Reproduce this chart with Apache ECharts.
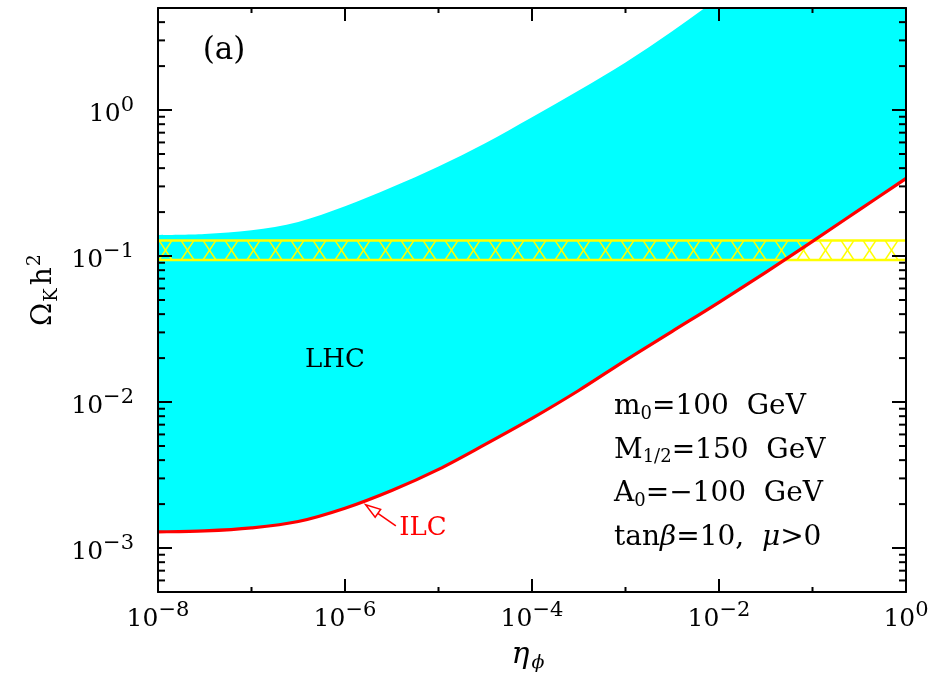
<!DOCTYPE html>
<html><head><meta charset="utf-8">
<script src="https://cdn.jsdelivr.net/npm/echarts@6/dist/echarts.min.js"></script>
<style>html,body{margin:0;padding:0;background:#fff}#c{width:942px;height:679px}</style>
</head><body><div id="c"></div>
<script>
// ---- data ----
const etaPhi   = [1e-8, 3.16e-8, 1e-7, 3.16e-7, 1e-6, 3.16e-6, 1e-5, 3.16e-5, 1e-4, 3.16e-4, 1e-3, 3.16e-3, 1e-2, 3.16e-2, 1e-1, 3.16e-1, 1];
const ilcLower = [1.29e-3, 1.31e-3, 1.374e-3, 1.52e-3, 1.875e-3, 2.48e-3, 3.46e-3, 5.13e-3, 7.73e-3, 0.0120, 0.0193, 0.0305, 0.0482, 0.0774, 0.126, 0.207, 0.340];
const lhcUpper = [0.139, 0.1415, 0.150, 0.171, 0.219, 0.296, 0.411, 0.592, 0.891, 1.36, 2.12, 3.46, 5.91, 10.4, 19.0, 35.2, 66];
const wmapX    = [1e-8, 1];
const wmapY    = [0.094, 0.128];
const xRange   = [1e-8, 1];
const yRange   = [5e-4, 5];
const xMinorTicks = [1e-7, 1e-5, 1e-3, 1e-1];
const yMinorTicks = [6e-4, 7e-4, 8e-4, 9e-4,
  2e-3, 3e-3, 4e-3, 5e-3, 6e-3, 7e-3, 8e-3, 9e-3,
  2e-2, 3e-2, 4e-2, 5e-2, 6e-2, 7e-2, 8e-2, 9e-2,
  0.2, 0.3, 0.4, 0.5, 0.6, 0.7, 0.8, 0.9,
  2, 3, 4];
const ilcArrowFrom = [3.5e-6, 1.42e-3];
const ilcArrowTo   = [1.66e-6, 1.98e-3];
const paramLines = [
  'm{sub|0}=100  GeV',
  'M{sub|1/2}=150  GeV',
  'A{sub|0}=\u2212100  GeV',
  'tan{it|\u03b2}=10,  {it|\u03bc}>0'
];

// ---- helpers ----
const SERIF = 'DejaVu Serif';
function decadeLabel(v) {
  const l = Math.log10(v), e = Math.round(l);
  if (Math.abs(l - e) > 1e-6) return '';
  return '{b|10}{s|' + (e < 0 ? '\u2212' : '') + Math.abs(e) + '}';
}
// smooth path (Catmull-Rom as cubic Bezier) through pixel points
function curvePath(pts, start) {
  let d = (start ? 'M' : 'L') + pts[0][0].toFixed(2) + ',' + pts[0][1].toFixed(2);
  const n = pts.length;
  for (let i = 0; i < n - 1; i++) {
    const p0 = pts[Math.max(i - 1, 0)], p1 = pts[i], p2 = pts[i + 1], p3 = pts[Math.min(i + 2, n - 1)];
    const c1 = [p1[0] + (p2[0] - p0[0]) / 6, p1[1] + (p2[1] - p0[1]) / 6];
    const c2 = [p2[0] - (p3[0] - p1[0]) / 6, p2[1] - (p3[1] - p1[1]) / 6];
    d += ' C' + c1[0].toFixed(2) + ',' + c1[1].toFixed(2) + ' ' + c2[0].toFixed(2) + ',' + c2[1].toFixed(2) + ' ' + p2[0].toFixed(2) + ',' + p2[1].toFixed(2);
  }
  return d;
}
const labelRich = {
  b: {fontFamily: SERIF, fontSize: 25, color: '#000', padding: [9, 0, 0, 0]},
  s: {fontFamily: SERIF, fontSize: 21, color: '#000', padding: [0, 0, 9, 0]}
};
const axisCommon = {
  z: 10,
  axisLine: {show: true, lineStyle: {color: '#000', width: 2}},
  splitLine: {show: false},
  minorTick: {show: false}
};
function xAxisDef(pos, labels) {
  return Object.assign({}, axisCommon, {
    type: 'log', logBase: 10, position: pos, min: xRange[0], max: xRange[1], interval: 2,
    axisTick: {show: true, inside: true, length: 13, lineStyle: {color: '#000', width: 2}},
    axisLabel: {show: labels, margin: 6, formatter: decadeLabel, rich: labelRich}
  });
}
function yAxisDef(pos, labels) {
  return Object.assign({}, axisCommon, {
    type: 'log', logBase: 10, position: pos, min: yRange[0], max: yRange[1],
    axisTick: {show: true, inside: true, length: 14, lineStyle: {color: '#000', width: 2}},
    axisLabel: {show: labels, margin: 24, formatter: decadeLabel, rich: labelRich}
  });
}

const chart = echarts.init(document.getElementById('c'), null, {renderer: 'canvas'});

const curveData = etaPhi.map((x, i) => [x, ilcLower[i], lhcUpper[i]]);

const option = {
  animation: false,
  backgroundColor: '#fff',
  grid: {left: 158, right: 36, top: 8, bottom: 87, containLabel: false},
  xAxis: [xAxisDef('bottom', true), xAxisDef('top', false)],
  yAxis: [yAxisDef('left', true), yAxisDef('right', false)],
  series: [
    { // LHC region between ILC curve and upper curve
      name: 'LHC', type: 'custom', coordinateSystem: 'cartesian2d', z: 1, silent: true, clip: true,
      data: curveData,
      renderItem: function (params, api) {
        if (params.dataIndex !== 0) return null;
        const up = etaPhi.map((x, i) => api.coord([x, lhcUpper[i]]));
        const lo = etaPhi.map((x, i) => api.coord([x, ilcLower[i]])).reverse();
        const d = curvePath(up, true) + ' ' + curvePath(lo, false) + ' Z';
        return {type: 'path', shape: {pathData: d}, style: {fill: '#00ffff', stroke: null}};
      }
    },
    { // WMAP band
      name: 'WMAP', type: 'custom', coordinateSystem: 'cartesian2d', z: 3, silent: true,
      data: [[wmapX[0], wmapY[0], wmapX[1], wmapY[1]]],
      renderItem: function (params, api) {
        const pTL = api.coord([api.value(0), api.value(3)]);
        const pBR = api.coord([api.value(2), api.value(1)]);
        const left = pTL[0], right = pBR[0], top = pTL[1], bot = pBR[1];
        const P = 22, w = 13;
        const st = {stroke: '#ffff00', lineWidth: 1.5};
        const ch = [];
        for (let x = left + 1; x + w <= right; x += P) {
          ch.push({type: 'line', shape: {x1: x, y1: top, x2: x + w, y2: bot}, style: st});
          ch.push({type: 'line', shape: {x1: x + w, y1: top, x2: x, y2: bot}, style: st});
        }
        ch.push({type: 'line', shape: {x1: left, y1: top, x2: right, y2: top}, style: {stroke: '#ffff00', lineWidth: 2.5}});
        ch.push({type: 'line', shape: {x1: left, y1: bot, x2: right, y2: bot}, style: {stroke: '#ffff00', lineWidth: 2.5}});
        return {type: 'group', children: ch};
      }
    },
    { // ILC curve (lower boundary) + arrow
      name: 'ILC', type: 'custom', coordinateSystem: 'cartesian2d', z: 5, silent: true, clip: true,
      data: curveData,
      renderItem: function (params, api) {
        if (params.dataIndex !== 0) return null;
        const lo = etaPhi.map((x, i) => api.coord([x, ilcLower[i]]));
        const tail = api.coord(ilcArrowFrom), tip = api.coord(ilcArrowTo);
        const dx = tip[0] - tail[0], dy = tip[1] - tail[1], len = Math.hypot(dx, dy);
        const ux = dx / len, uy = dy / len, nx = -uy, ny = ux;
        const L = 15, W = 4.8;
        const base = [tip[0] - ux * L, tip[1] - uy * L];
        return {type: 'group', children: [
          {type: 'path', shape: {pathData: curvePath(lo, true)},
           style: {fill: null, stroke: '#ff0000', lineWidth: 3.2, lineJoin: 'round'}},
          {type: 'line', shape: {x1: tail[0], y1: tail[1], x2: base[0], y2: base[1]},
           style: {stroke: '#ff0000', lineWidth: 1.6}},
          {type: 'polygon', shape: {points: [tip, [base[0] + nx * W, base[1] + ny * W], [base[0] - nx * W, base[1] - ny * W]]},
           style: {fill: '#ffffff', stroke: '#ff0000', lineWidth: 1.5}}
        ]};
      }
    },
    { // y minor ticks (left & right)
      type: 'custom', coordinateSystem: 'cartesian2d', z: 12, silent: true,
      data: yMinorTicks.map(v => [xRange[0], v]),
      renderItem: function (params, api) {
        const cs = params.coordSys;
        const p = api.coord([api.value(0), api.value(1)]);
        const st = {stroke: '#000', lineWidth: 2};
        return {type: 'group', children: [
          {type: 'line', shape: {x1: cs.x, y1: p[1], x2: cs.x + 7, y2: p[1]}, style: st},
          {type: 'line', shape: {x1: cs.x + cs.width, y1: p[1], x2: cs.x + cs.width - 7, y2: p[1]}, style: st}
        ]};
      }
    },
    { // x minor ticks (bottom & top)
      type: 'custom', coordinateSystem: 'cartesian2d', z: 12, silent: true,
      data: xMinorTicks.map(v => [v, yRange[0]]),
      renderItem: function (params, api) {
        const cs = params.coordSys;
        const p = api.coord([api.value(0), api.value(1)]);
        const st = {stroke: '#000', lineWidth: 2};
        return {type: 'group', children: [
          {type: 'line', shape: {x1: p[0], y1: cs.y + cs.height, x2: p[0], y2: cs.y + cs.height - 5}, style: st},
          {type: 'line', shape: {x1: p[0], y1: cs.y, x2: p[0], y2: cs.y + 5}, style: st}
        ]};
      }
    }
  ],
  graphic: [
    {type: 'text', x: 224, y: 51, z: 20, silent: true,
     style: {text: '(a)', fontFamily: SERIF, fontSize: 31, fill: '#000', align: 'center', verticalAlign: 'middle'}},
    {type: 'text', x: 335, y: 360, z: 20, silent: true,
     style: {text: 'LHC', fontFamily: SERIF, fontSize: 26, fill: '#000', align: 'center', verticalAlign: 'middle'}},
    {type: 'text', x: 423, y: 528, z: 20, silent: true,
     style: {text: 'ILC', fontFamily: SERIF, fontSize: 26, fill: '#ff0000', align: 'center', verticalAlign: 'middle'}},
    {type: 'text', x: 614, y: 385, z: 20, silent: true,
     style: {text: paramLines.join('\n'), fontFamily: SERIF, fontSize: 28, fill: '#000', lineHeight: 43.5,
             align: 'left', verticalAlign: 'top',
             rich: {
               sub: {fontFamily: SERIF, fontSize: 18, fill: '#000', padding: [15, 0, 0, 0], lineHeight: 43.5},
               it: {fontFamily: SERIF, fontSize: 28, fontStyle: 'italic', fill: '#000', lineHeight: 43.5}
             }}},
    {type: 'text', x: 528, y: 655, z: 20, silent: true,
     style: {text: '{e|\u03b7}{sub|\u03d5}', fontFamily: SERIF, fontSize: 28, fill: '#000', align: 'center', verticalAlign: 'middle',
             rich: {
               e: {fontFamily: SERIF, fontSize: 30, fontStyle: 'italic', fill: '#000'},
               sub: {fontFamily: SERIF, fontSize: 19, fontStyle: 'italic', fill: '#000', padding: [16, 0, 0, 2]}
             }}},
    {type: 'text', x: 44, y: 290, rotation: Math.PI / 2, z: 20, silent: true,
     style: {text: '{o|\u03a9}{sub|K}{o|h}{sup|2}', fontFamily: SERIF, fontSize: 28, fill: '#000', align: 'center', verticalAlign: 'middle',
             rich: {
               o: {fontFamily: SERIF, fontSize: 28, fill: '#000'},
               sub: {fontFamily: SERIF, fontSize: 18, fill: '#000', padding: [16, 3, 0, 1]},
               sup: {fontFamily: SERIF, fontSize: 19, fill: '#000', padding: [0, 0, 18, 1]}
             }}}
  ]
};
chart.setOption(option);
</script>
</body></html>
